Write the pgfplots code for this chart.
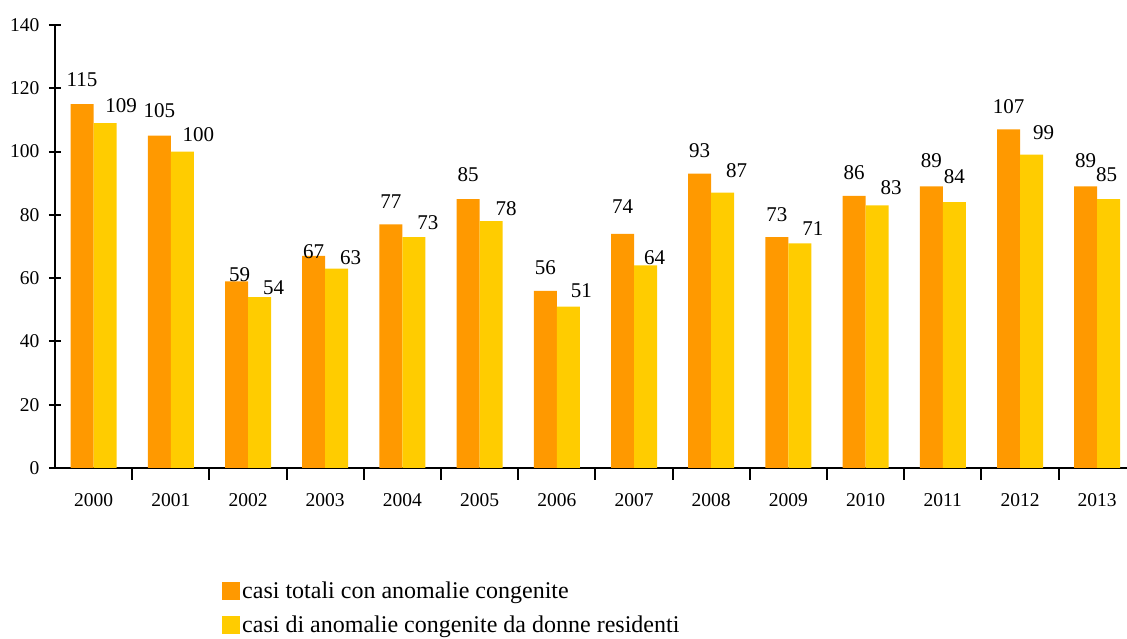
\documentclass[border=0pt]{standalone}
\usepackage{pgfplots}
\pgfplotsset{compat=1.18}
\usepackage{fontspec}
\setmainfont{Liberation Serif}
\definecolor{cOr}{HTML}{FF9900}
\definecolor{cYe}{HTML}{FFCC00}
\pgfplotstableread{
x tot res dxa dya dxb dyb
0 115 109 0 18 16 11
1 105 100 0 18 16 10
2 59 54 3 0 14 3
3 67 63 0 -3 14 4
4 77 73 0 16 14 8
5 85 78 0 18 15 6
6 56 51 0 16 13 9
7 74 64 0 20 9 1
8 93 87 0 16 14 15
9 73 71 0 16 13 8
10 86 83 0 16 14 11
11 89 84 0 19 0 19
12 107 99 0 16 12 15
13 89 85 0 19 -2 18
}\data
\begin{document}
\begin{tikzpicture}
\path[use as bounding box] (0,0) rectangle (1127pt,639pt);
\begin{axis}[
  at={(55pt,171pt)}, anchor=south west,
  scale only axis, width=1072pt, height=443pt,
  xmin=-0.5, xmax=13.386, ymin=0, ymax=140,
  axis x line=bottom, axis y line=left,
  axis line style={-, line width=1.6pt},
  every tick/.style={black, line width=2pt},
  x tick style={black, line width=2pt},
  tick align=center,
  major tick length=12pt,
  ytick={0,20,...,140},
  xtick={0.5,1.5,...,12.5},
  xticklabels={},
  extra x ticks={0,...,13},
  extra x tick labels={2000,2001,2002,2003,2004,2005,2006,2007,2008,2009,2010,2011,2012,2013},
  extra x tick style={major tick length=0pt},
  /pgf/number format/assume math mode=true,
  ticklabel style={font=\fontsize{19.5}{23}\selectfont},
  yticklabel style={xshift=-6pt},
  xticklabel style={yshift=-22pt},
  ybar=0pt, bar width=23pt,
  nodes near coords,
  legend style={draw=none, at={(0.153,-0.2475)}, anchor=north west,
    font=\fontsize{24}{28}\selectfont, row sep=12pt,
    nodes={inner sep=2pt}},
  legend cell align=left,
  legend image code/.code={\fill[#1] (0pt,-9pt) rectangle (18pt,9pt);},
]
\addplot[fill=cOr, draw=none,
  visualization depends on={\thisrow{dxa} \as \dxx},
  visualization depends on={\thisrow{dya} \as \dyy},
  nodes near coords style={font=\fontsize{21}{24}\selectfont, anchor=base, inner sep=0pt, xshift=\dxx pt, yshift=\dyy pt},
] table[x=x, y=tot] {\data};
\addplot[fill=cYe, draw=none,
  visualization depends on={\thisrow{dxb} \as \dxx},
  visualization depends on={\thisrow{dyb} \as \dyy},
  nodes near coords style={font=\fontsize{21}{24}\selectfont, anchor=base, inner sep=0pt, xshift=\dxx pt, yshift=\dyy pt},
] table[x=x, y=res] {\data};
\legend{casi totali con anomalie congenite, casi di anomalie congenite da donne residenti}
\end{axis}
\end{tikzpicture}
\end{document}
